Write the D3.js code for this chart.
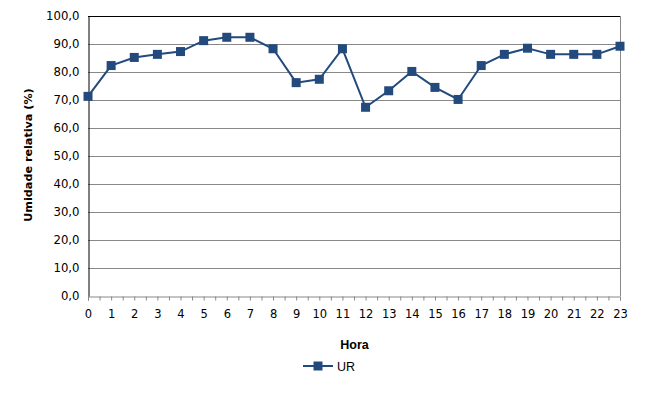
<!DOCTYPE html>
<html><head><meta charset="utf-8">
<script src="https://cdn.jsdelivr.net/npm/d3@7"></script>
<style>body{margin:0;background:#fff}svg{display:block}</style>
</head><body>
<script>
const hours = [0,1,2,3,4,5,6,7,8,9,10,11,12,13,14,15,16,17,18,19,20,21,22,23];
const ur = [71.3,82.3,85.2,86.3,87.3,91.2,92.4,92.4,88.3,76.2,77.4,88.3,67.4,73.3,80.2,74.5,70.2,82.3,86.3,88.5,86.3,86.3,86.3,89.2];
const yTicks = [0,10,20,30,40,50,60,70,80,90,100];
const seriesName = "UR";
const xTitle = "Hora";
const yTitle = "Umidade relativa (%)";

const W = 671, H = 400;
const L = 88, R = 620, T = 16, B = 296;
const color = "#234a7d";
const svg = d3.select("body").append("svg").attr("width", W).attr("height", H);

const x = d3.scaleLinear().domain([0, 23]).range([L, R]);
const y = d3.scaleLinear().domain([0, 100]).range([B, T]);

// gridlines
svg.append("g").selectAll("line").data(yTicks.filter(d => d > 0 && d < 100)).join("line")
  .attr("x1", L).attr("x2", R).attr("y1", d => y(d) + 0.5).attr("y2", d => y(d) + 0.5)
  .attr("stroke", "#888").attr("stroke-width", 1);

// borders
svg.append("line").attr("x1", L).attr("x2", R).attr("y1", y(100) + 0.5).attr("y2", y(100) + 0.5).attr("stroke", "#000");
svg.append("line").attr("x1", R + 0.5).attr("x2", R + 0.5).attr("y1", T).attr("y2", B).attr("stroke", "#888");

// x axis
const halfTicks = d3.range(0, 23.01, 0.5);
const xAxis = d3.axisBottom(x).tickValues(halfTicks).tickSize(4).tickFormat(d => Number.isInteger(d) ? d : "");
const gx = svg.append("g").attr("transform", `translate(0,${B + 0.5})`).call(xAxis);
gx.select(".domain").attr("stroke", "#888");
gx.selectAll(".tick line").attr("stroke", "#888");
gx.selectAll(".tick text").attr("font-family", "DejaVu Sans, Verdana, sans-serif").attr("font-size", 11.5).attr("fill", "#000").attr("dy", "1.25em");

// y axis
const yAxis = d3.axisLeft(y).tickValues(yTicks).tickSize(0).tickPadding(9).tickFormat(d => d3.format(".1f")(d).replace(".", ","));
const gy = svg.append("g").attr("transform", `translate(${L + 0.5},0)`).call(yAxis);
gy.select(".domain").attr("stroke", "#000");
gy.selectAll(".tick text").attr("font-family", "DejaVu Sans, Verdana, sans-serif").attr("font-size", 11.7).attr("fill", "#000");

// line
const line = d3.line().x((d, i) => x(hours[i])).y(d => y(d));
svg.append("path").datum(ur).attr("d", line).attr("fill", "none").attr("stroke", color).attr("stroke-width", 2);
const ms = 9;
svg.append("g").selectAll("rect").data(ur).join("rect")
  .attr("x", (d, i) => x(hours[i]) - ms / 2).attr("y", d => y(d) - ms / 2)
  .attr("width", ms).attr("height", ms).attr("fill", color);

// titles
svg.append("text").attr("x", (L + R) / 2 + 0.5).attr("y", 348.5).attr("text-anchor", "middle")
  .attr("font-family", "Liberation Sans, Arial, sans-serif").attr("font-weight", "bold").attr("font-size", 12.5).text(xTitle);
svg.append("text").attr("transform", `translate(32,${(T + B) / 2 - 1})rotate(-90)`).attr("text-anchor", "middle")
  .attr("font-family", "DejaVu Sans, Verdana, sans-serif").attr("font-weight", "bold").attr("font-size", 11.2).text(yTitle);

// legend
const lg = svg.append("g").attr("transform", "translate(303,366)");
lg.append("line").attr("x1", 0).attr("x2", 30).attr("y1", 0).attr("y2", 0).attr("stroke", color).attr("stroke-width", 2);
lg.append("rect").attr("x", 15 - ms / 2).attr("y", -ms / 2).attr("width", ms).attr("height", ms).attr("fill", color);
lg.append("text").attr("x", 34).attr("y", 4.5).attr("font-family", "Liberation Sans, Arial, sans-serif").attr("font-size", 12.5).text(seriesName);
</script>
</body></html>
